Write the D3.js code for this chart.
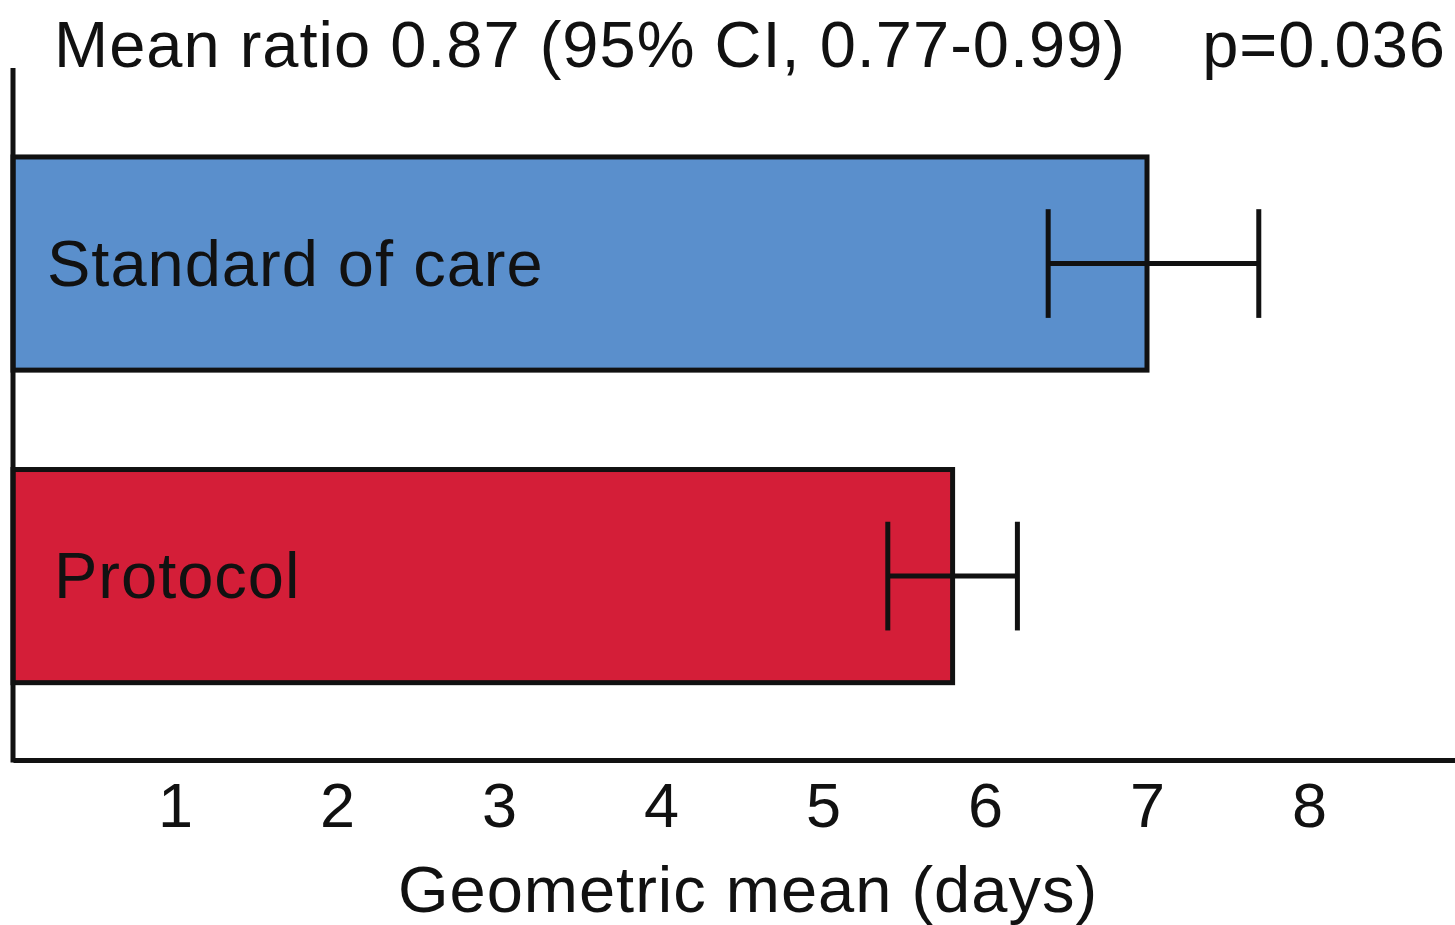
<!DOCTYPE html>
<html>
<head>
<meta charset="utf-8">
<script src="https://cdn.jsdelivr.net/npm/d3@7"></script>
<style>
  body { margin: 0; background: #fff; }
  svg { display: block; font-family: "Liberation Sans", Arial, sans-serif; }
</style>
</head>
<body>
<div id="chart"></div>
<script>
// data
const groups = ["Standard of care", "Protocol"];
const means = [7.0, 5.8];
const ciLow = [6.39, 5.40];
const ciHigh = [7.69, 6.20];
const colors = ["#5a8fcc", "#d41e38"];
const tickValues = [1, 2, 3, 4, 5, 6, 7, 8];
const title = "Mean ratio 0.87 (95% CI, 0.77-0.99)";
const pText = "p=0.036";
const xTitle = "Geometric mean (days)";

const W = 1455, H = 925;
const plotLeft = 13, plotRight = 1455, plotTop = 68, plotBottom = 760;
const fs = 65;

const svg = d3.select("#chart")
    .append("svg")
    .attr("width", W)
    .attr("height", H);

const x = d3.scaleLinear()
    .domain([0, (plotRight - plotLeft) / 162])
    .range([plotLeft, plotRight]);

const y = d3.scaleBand()
    .domain(groups)
    .range([plotTop, plotBottom])
    .paddingInner(0.318)
    .paddingOuter(0.266)
    .align(0.535);

const data = groups.map((g, i) => ({ g, m: means[i], lo: ciLow[i], hi: ciHigh[i], c: colors[i] }));

// bars
svg.selectAll(".bar")
    .data(data)
    .join("rect")
    .attr("x", x(0))
    .attr("y", d => y(d.g))
    .attr("width", d => x(d.m) - x(0))
    .attr("height", y.bandwidth())
    .attr("fill", d => d.c)
    .attr("stroke", "#111")
    .attr("stroke-width", 5);

// bar labels
svg.selectAll(".lbl")
    .data(data)
    .join("text")
    .attr("x", (d, i) => i === 0 ? 47 : 54)
    .attr("y", d => y(d.g) + y.bandwidth() / 2 + 22)
    .attr("font-size", fs)
    .attr("letter-spacing", 1)
    .attr("fill", "#111")
    .text(d => d.g);

// error bars
const capH = y.bandwidth() * 0.51;
const eb = svg.selectAll(".err")
    .data(data)
    .join("g")
    .attr("stroke", "#111")
    .attr("stroke-width", 5);
eb.append("line")
    .attr("x1", d => x(d.lo)).attr("x2", d => x(d.hi))
    .attr("y1", d => y(d.g) + y.bandwidth() / 2)
    .attr("y2", d => y(d.g) + y.bandwidth() / 2);
eb.append("line")
    .attr("x1", d => x(d.lo)).attr("x2", d => x(d.lo))
    .attr("y1", d => y(d.g) + y.bandwidth() / 2 - capH / 2)
    .attr("y2", d => y(d.g) + y.bandwidth() / 2 + capH / 2);
eb.append("line")
    .attr("x1", d => x(d.hi)).attr("x2", d => x(d.hi))
    .attr("y1", d => y(d.g) + y.bandwidth() / 2 - capH / 2)
    .attr("y2", d => y(d.g) + y.bandwidth() / 2 + capH / 2);

// x axis, no tick marks
const xAxis = svg.append("g")
    .attr("transform", `translate(0,${plotBottom})`)
    .call(d3.axisBottom(x).tickValues(tickValues).tickSize(0).tickPadding(22).tickFormat(d3.format("d")));
xAxis.select(".domain").attr("stroke", "#111").attr("stroke-width", 5);
xAxis.selectAll("text")
    .attr("font-size", 63)
    .attr("fill", "#111")
    .attr("font-family", "Liberation Sans, Arial, sans-serif");

// y axis line
svg.append("line")
    .attr("x1", plotLeft).attr("x2", plotLeft)
    .attr("y1", plotTop).attr("y2", plotBottom + 2.5)
    .attr("stroke", "#111")
    .attr("stroke-width", 5);

// titles
svg.append("text")
    .attr("x", 54).attr("y", 67)
    .attr("font-size", fs)
    .attr("letter-spacing", 1)
    .attr("fill", "#111")
    .text(title);
svg.append("text")
    .attr("x", 1446).attr("y", 67)
    .attr("text-anchor", "end")
    .attr("font-size", fs)
    .attr("letter-spacing", 1)
    .attr("fill", "#111")
    .text(pText);
svg.append("text")
    .attr("x", 748).attr("y", 912)
    .attr("text-anchor", "middle")
    .attr("font-size", fs)
    .attr("letter-spacing", 1)
    .attr("fill", "#111")
    .text(xTitle);
</script>
</body>
</html>
